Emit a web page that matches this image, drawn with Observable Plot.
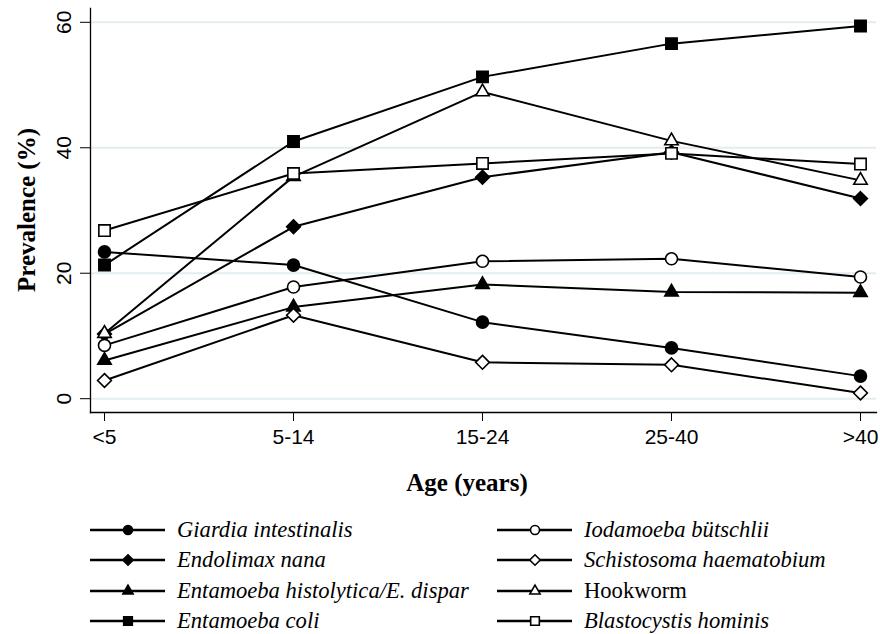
<!DOCTYPE html>
<html>
<head>
<meta charset="utf-8">
<script src="https://cdn.jsdelivr.net/npm/d3@7"></script>
<script src="https://cdn.jsdelivr.net/npm/@observablehq/plot@0.6"></script>
<style>
  html, body { margin: 0; padding: 0; background: #fff; }
  #wrap { position: relative; width: 880px; height: 634px; overflow: hidden; background: #fff; }
  #wrap svg.plot { position: absolute; left: 0; top: 0; }
  .xtitle { position: absolute; top: 468px; left: 467px; transform: translateX(-50%);
    font-family: "Liberation Serif", "Times New Roman", serif; font-weight: bold; font-size: 25px; line-height: 30px; white-space: nowrap; }
  .ytitle { position: absolute; left: 27px; top: 210px; transform: translate(-50%, -50%) rotate(-90deg);
    font-family: "Liberation Serif", "Times New Roman", serif; font-weight: bold; font-size: 25px; line-height: 30px; white-space: nowrap; }
  .leg { position: absolute; display: flex; align-items: center; height: 30px;
    font-family: "Liberation Serif", "Times New Roman", serif; font-size: 22.6px; white-space: nowrap; }
  .leg svg { display: block; margin-right: 12px; }
</style>
</head>
<body>
<div id="wrap"></div>
<script>
// ---- data ----
const ages = ["<5", "5-14", "15-24", "25-40", ">40"];
const seriesNames = [
  "Giardia intestinalis", "Iodamoeba bütschlii",
  "Endolimax nana", "Schistosoma haematobium",
  "Entamoeba histolytica/E. dispar", "Hookworm",
  "Entamoeba coli", "Blastocystis hominis"
];
const giardia     = [23.4, 21.3, 12.2, 8.1, 3.6];
const iodamoeba   = [8.5, 17.8, 21.9, 22.3, 19.4];
const endolimax   = [10.3, 27.4, 35.3, 39.3, 31.9];
const schisto     = [2.9, 13.3, 5.8, 5.4, 0.9];
const histolytica = [6.1, 14.6, 18.2, 17.0, 16.9];
const hookworm    = [10.4, 35.4, 48.9, 41.1, 34.8];
const ecoli       = [21.3, 41.0, 51.3, 56.6, 59.4];
const blasto      = [26.8, 35.9, 37.5, 39.1, 37.4];
const yTicks = [0, 20, 40, 60];

// marker style per series
const symbols = ["circle", "circle", "diamond2", "diamond2", "triangle2", "triangle2", "square2", "square2"];
const filled  = [true, false, true, false, true, false, true, false];
const italic  = [true, true, true, true, true, false, true, true];
const symbolRadius = {circle: 6, diamond2: 6.2, triangle2: 6.4, square2: 7.2};

const values = [giardia, iodamoeba, endolimax, schisto, histolytica, hookworm, ecoli, blasto];
const rows = [];
values.forEach((vals, i) => vals.forEach((v, j) => rows.push({
  series: seriesNames[i], age: ages[j], value: v,
  fill: filled[i] ? "black" : "white", size: symbolRadius[symbols[i]]
})));

// draw order like the original (line + markers per series)
const drawOrder = ["Giardia intestinalis", "Endolimax nana", "Entamoeba histolytica/E. dispar", "Entamoeba coli",
  "Iodamoeba bütschlii", "Schistosoma haematobium", "Hookworm", "Blastocystis hominis"];

const seriesMarks = drawOrder.flatMap(name => {
  const d = rows.filter(r => r.series === name);
  return [
    Plot.line(d, {x: "age", y: "value", stroke: "black", strokeWidth: 2}),
    Plot.dot(d, {x: "age", y: "value", symbol: "series", fill: "fill", stroke: "black", strokeWidth: 1.6, r: "size"})
  ];
});

const chart = Plot.plot({
  width: 880,
  height: 455,
  marginLeft: 90,
  marginRight: 4,
  marginTop: 8,
  marginBottom: 43,
  x: {type: "point", domain: ages, range: [103, 861], padding: 0},
  y: {domain: [-2.2, 62.2]},
  r: {type: "identity"},
  symbol: {domain: seriesNames, range: symbols},
  style: {fontFamily: "'Liberation Sans', Arial, sans-serif", fontSize: "21px", color: "black", background: "white"},
  marks: [
    Plot.gridY(yTicks, {stroke: "#e3edf1", strokeOpacity: 1, strokeWidth: 2}),
    Plot.axisY(yTicks, {tickSize: 10, tickPadding: 10, tickRotate: -90, label: null, fontSize: 21}),
    Plot.axisX({tickSize: 9, tickPadding: 8, label: null, fontSize: 21}),
    Plot.frame({anchor: "left", strokeWidth: 1.3}),
    Plot.frame({anchor: "bottom", strokeWidth: 1.3}),
    ...seriesMarks
  ]
});
chart.classList.add("plot");
const wrap = document.getElementById("wrap");
wrap.appendChild(chart);

// titles
const xt = document.createElement("div"); xt.className = "xtitle"; xt.textContent = "Age (years)"; wrap.appendChild(xt);
const yt = document.createElement("div"); yt.className = "ytitle"; yt.textContent = "Prevalence (%)"; wrap.appendChild(yt);

// legend
const d3sym = {circle: d3.symbolCircle, diamond2: d3.symbolDiamond2, triangle2: d3.symbolTriangle2, square2: d3.symbolSquare2};
const legSize = {circle: 64, diamond2: 70, triangle2: 75, square2: 95};
seriesNames.forEach((name, i) => {
  const col = i % 2, row = Math.floor(i / 2);
  const el = document.createElement("div");
  el.className = "leg";
  el.style.left = (col === 0 ? 90 : 497) + "px";
  el.style.top = (515 + row * 30.3) + "px";
  const svg = d3.create("svg").attr("width", 75).attr("height", 20);
  svg.append("line").attr("x1", 0).attr("x2", 75).attr("y1", 10).attr("y2", 10).attr("stroke", "black").attr("stroke-width", 2.4);
  svg.append("path").attr("transform", "translate(38,10)")
    .attr("d", d3.symbol(d3sym[symbols[i]], legSize[symbols[i]])())
    .attr("fill", filled[i] ? "black" : "white").attr("stroke", "black").attr("stroke-width", 1.6);
  el.appendChild(svg.node());
  const t = document.createElement("span");
  t.textContent = name;
  t.style.fontStyle = italic[i] ? "italic" : "normal";
  el.appendChild(t);
  wrap.appendChild(el);
});
</script>
</body>
</html>
